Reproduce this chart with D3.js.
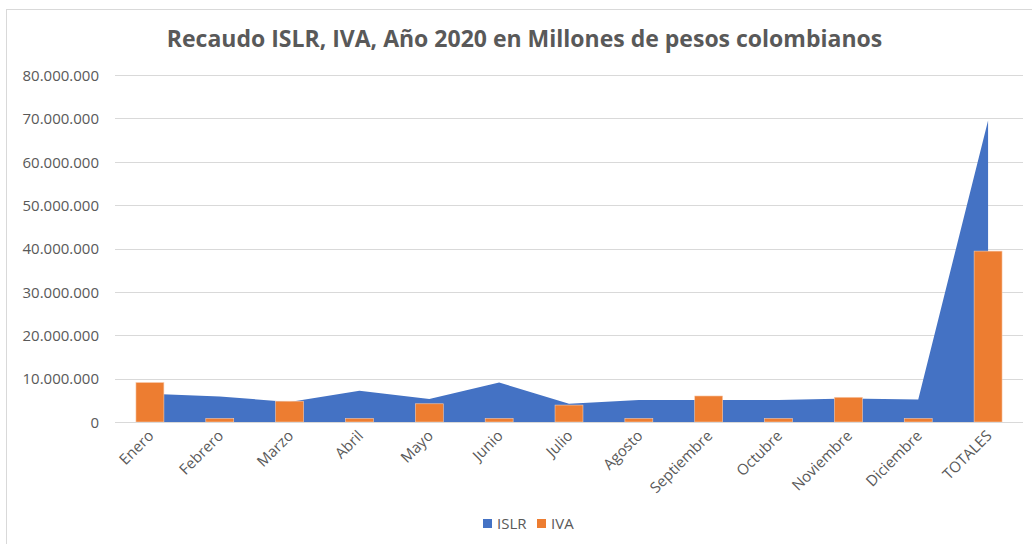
<!DOCTYPE html>
<html>
<head>
<meta charset="utf-8">
<script src="https://cdn.jsdelivr.net/npm/d3@7"></script>
<style>
  html, body { margin: 0; padding: 0; background: #fff; }
  svg { display: block; }
  text { font-family: "Open Sans", "Liberation Sans", sans-serif; fill: #595959; }
</style>
</head>
<body>
<svg id="chart" width="1032" height="544"></svg>
<script>
const categories = ["Enero","Febrero","Marzo","Abril","Mayo","Junio","Julio","Agosto","Septiembre","Octubre","Noviembre","Diciembre","TOTALES"];
const islr = [6500000, 5900000, 4600000, 7200000, 5300000, 9100000, 4200000, 5100000, 5100000, 5100000, 5400000, 5200000, 69500000];
const iva  = [9100000, 800000, 4800000, 800000, 4200000, 800000, 3900000, 800000, 6000000, 800000, 5700000, 800000, 39400000];
const yTicks = [0, 10000000, 20000000, 30000000, 40000000, 50000000, 60000000, 70000000, 80000000];
const title = "Recaudo ISLR, IVA, Año 2020 en Millones de pesos colombianos";
const seriesNames = ["ISLR", "IVA"];
const colors = {ISLR: "#4472C4", IVA: "#ED7D31"};

const svg = d3.select("#chart");
const W = 1032, H = 544;
const m = {left: 115, right: 9, top: 75, bottom: 122};

// chart frame
svg.append("rect").attr("x", 6.5).attr("y", 9.5).attr("width", 1100).attr("height", 700)
  .attr("fill", "none").attr("stroke", "#D9D9D9").attr("stroke-width", 1);

const x = d3.scaleBand().domain(categories).range([m.left, W - m.right]).paddingInner(0).paddingOuter(0);
const y = d3.scaleLinear().domain([0, 80000000]).range([H - m.bottom, m.top]);

const fmt = v => v === 0 ? "0" : d3.format(",")(v).replace(/,/g, ".");

// gridlines
svg.append("g").selectAll("line").data(yTicks).join("line")
  .attr("x1", m.left).attr("x2", W - m.right)
  .attr("y1", d => Math.round(y(d)) + 0.5).attr("y2", d => Math.round(y(d)) + 0.5)
  .attr("stroke", "#D9D9D9").attr("stroke-width", 1);

// y-axis labels
const yAxis = d3.axisLeft(y).tickValues(yTicks).tickFormat(fmt).tickSize(0).tickPadding(0);
const yg = svg.append("g").attr("transform", `translate(${m.left - 16},0)`).call(yAxis);
yg.select(".domain").remove();
yg.selectAll("text").style("font-size", "15px").style("fill", "#595959")
  .style("font-family", '"Open Sans", sans-serif').attr("dy", "0.35em");

// ISLR area
const cx = d => x(d) + x.bandwidth() / 2;
const area = d3.area()
  .x((d, i) => cx(categories[i]))
  .y0(y(0))
  .y1(d => y(d));
svg.append("path").datum(islr).attr("d", area).attr("fill", colors.ISLR);

// IVA bars
const bw = x.bandwidth() * 0.4;
svg.append("g").selectAll("rect").data(iva).join("rect")
  .attr("x", (d, i) => cx(categories[i]) - bw / 2)
  .attr("width", bw)
  .attr("y", d => y(d))
  .attr("height", d => y(0) - y(d))
  .attr("fill", colors.IVA)
  .attr("stroke", "#F8CBAD").attr("stroke-width", 0.6);

// baseline axis line
svg.append("line").attr("x1", m.left).attr("x2", W - m.right)
  .attr("y1", Math.round(y(0)) + 0.5).attr("y2", Math.round(y(0)) + 0.5)
  .attr("stroke", "#D9D9D9").attr("stroke-width", 1.2);

// x labels
svg.append("g").selectAll("text").data(categories).join("text")
  .attr("transform", d => `translate(${cx(d) + 1},${y(0) + 11}) rotate(-45)`)
  .attr("text-anchor", "end").attr("dy", "0.35em")
  .style("font-size", "15px")
  .text(d => d);

// title
svg.append("text").attr("x", 524.5).attr("y", 47).attr("text-anchor", "middle")
  .style("font-size", "23px").style("font-weight", "bold").style("fill", "#595959")
  .text(title);

// legend
const leg = svg.append("g");
const legItems = [{name: seriesNames[0], x: 483, tx: 497}, {name: seriesNames[1], x: 537, tx: 551}];
legItems.forEach(it => {
  leg.append("rect").attr("x", it.x).attr("y", 519).attr("width", 9).attr("height", 9).attr("fill", colors[it.name]);
  leg.append("text").attr("x", it.tx).attr("y", 529).style("font-size", "15px").text(it.name);
});
</script>
</body>
</html>
